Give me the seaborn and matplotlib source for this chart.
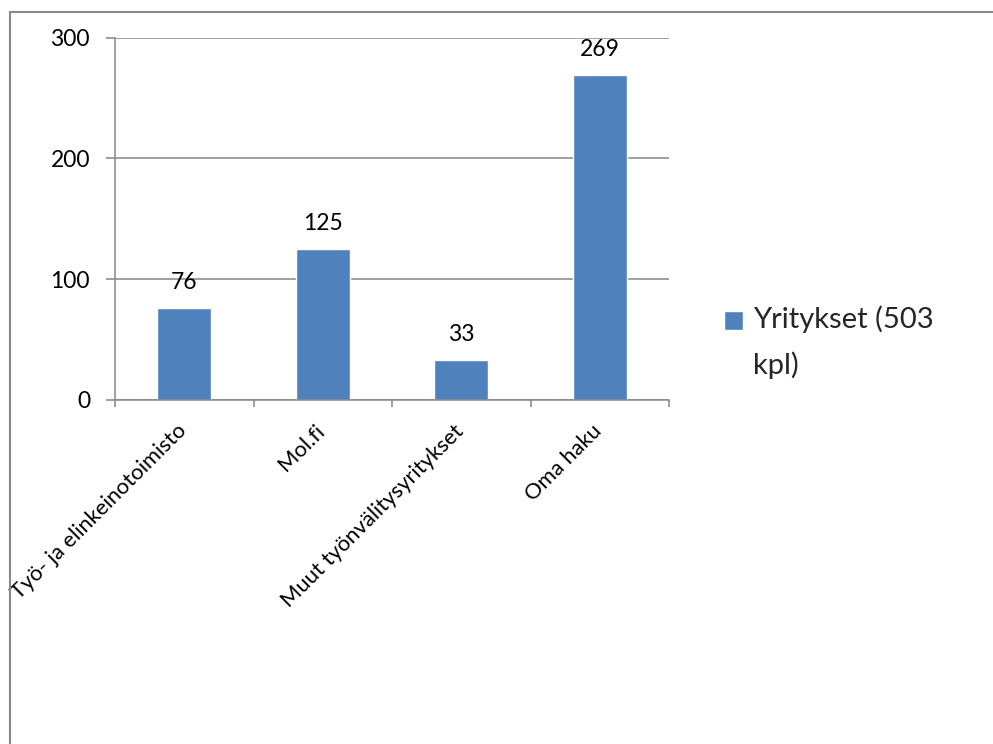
import matplotlib
matplotlib.use("Agg")
import matplotlib.pyplot as plt
import matplotlib.transforms as mtransforms
import seaborn as sns
from matplotlib.patches import Rectangle
from matplotlib.legend_handler import HandlerPatch

categories = ["Työ- ja elinkeinotoimisto", "Mol.fi", "Muut työnvälitysyritykset", "Oma haku"]
values = [76, 125, 33, 269]
series_label = "Yritykset (503\nkpl)"
yticks = [0, 100, 200, 300]

BAR = "#4F81BD"
GRAY = "#868686"

sns.set_style("white")
plt.rcParams["font.family"] = ["Lato", "DejaVu Sans"]

fig = plt.figure(figsize=(9.93, 7.44), dpi=100)
ax = fig.add_axes([115 / 993, 1 - 400 / 744, (669 - 115) / 993, (400 - 37.7) / 744])

sns.barplot(x=categories, y=values, color=BAR, width=0.39, errorbar=None,
            saturation=1, ax=ax)

ax.set_xlim(-0.5, len(categories) - 0.5)
ax.set_ylim(0, 300)
ax.set_yticks(yticks)
ax.set_xlabel("")
ax.set_ylabel("")

for s in ["top", "right"]:
    ax.spines[s].set_visible(False)
for s in ["left", "bottom"]:
    ax.spines[s].set_color(GRAY)
    ax.spines[s].set_linewidth(1.1)

ax.yaxis.grid(True, color=GRAY, linewidth=1.1)
ax.set_axisbelow(True)

ax.tick_params(axis="y", length=6.5, width=1.1, color=GRAY, direction="out",
               pad=11.5, labelsize=16.5, labelcolor="black", left=True)
ax.tick_params(axis="x", which="major", length=0, pad=15, labelsize=15.8,
               labelcolor="black")
ax.set_xticks([i - 0.5 for i in range(len(categories) + 1)], minor=True)
ax.tick_params(axis="x", which="minor", length=5, width=1.1, color=GRAY,
               direction="out", bottom=True)
shift_tr = mtransforms.ScaledTranslation(6 / 100, 0, fig.dpi_scale_trans)
for lab in ax.get_xticklabels():
    lab.set_rotation(45)
    lab.set_ha("right")
    lab.set_transform(lab.get_transform() + shift_tr)

ax.bar_label(ax.containers[0], padding=11, fontsize=16.5, color="black")


def top_square(legend, orig_handle, xdescent, ydescent, width, height, fontsize):
    shift = 16.0
    return Rectangle((-xdescent, -ydescent + shift), width, width)


leg = ax.legend(handles=[ax.patches[0]], labels=[series_label],
                handler_map={ax.patches[0]: HandlerPatch(patch_func=top_square)},
                loc="center left", bbox_to_anchor=(724 / 993, 1 - 342 / 744),
                bbox_transform=fig.transFigure, frameon=False, fontsize=21,
                borderpad=0, borderaxespad=0, handlelength=0.65, handleheight=0.65,
                handletextpad=0.34)
for t in leg.get_texts():
    t.set_linespacing(1.8)

fig.add_artist(Rectangle((10 / 993, -0.1), 1.2, (1 - 12 / 744) + 0.1,
                         transform=fig.transFigure, fill=False,
                         edgecolor="#898989", linewidth=1.5))

fig.savefig("out.png", dpi=100, facecolor="white")
